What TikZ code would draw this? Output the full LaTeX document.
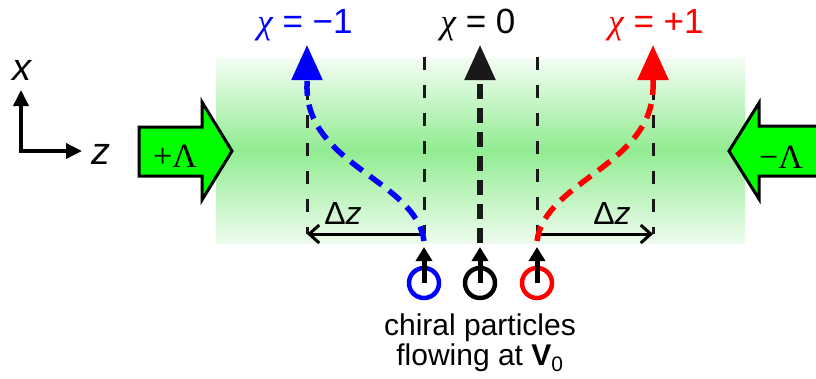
\documentclass[tikz,border=0pt]{standalone}
\usepackage{fontspec}
\setmainfont{Liberation Sans}
\newfontfamily\timesgr{Liberation Serif}
\usetikzlibrary{arrows.meta,positioning}
\definecolor{bandgreen}{RGB}{145,236,145}
\definecolor{fluxgreen}{RGB}{0,255,0}

\begin{document}
\begin{tikzpicture}[x=1pt, y=-1pt, >=Stealth,
    guide/.style={black!90, line width=3pt, dash pattern=on 13pt off 15pt},
    track/.style={line width=5.5pt, dash pattern=on 15pt off 9pt},
    bighead/.style={-{Triangle[width=30pt,length=35pt]}},
    smallhead/.style={-{Triangle[width=16pt,length=14pt]}},
    flux/.style={draw=black, line width=3pt, fill=fluxgreen, line join=miter},
    chilbl/.style={font=\fontsize{35}{40}\selectfont, inner sep=0pt},
    dzlbl/.style={font=\fontsize{32}{36}\selectfont, inner sep=0pt},
    particle/.style={circle, line width=4.5pt, minimum size=30pt, inner sep=0pt}]
    \useasboundingbox (0,0) rectangle (816,378);
    \shade[top color=bandgreen!10!white, bottom color=bandgreen!15!white,
        middle color=bandgreen] (216,58) rectangle (745,243);

    \coordinate (o) at (21,151);
    \coordinate (ax) at (21,90);
    \coordinate (az) at (82,151);
    \draw[line width=3.5pt, {Triangle[width=15pt,length=16pt]}-{Triangle[width=15pt,length=16pt]}]
        (ax) -- (o) -- (az);
    \node[font=\itshape\fontsize{38}{42}\selectfont, inner sep=0pt] (lx) at (22,70) {x};
    \node[font=\itshape\fontsize{38}{42}\selectfont, inner sep=0pt] (lz) at (101,154) {z};

    \draw[flux] (139,127) -- (202,127) -- (202,102) -- (232,151)
        -- (202,200) -- (202,176) -- (139,176) -- cycle;
    \node[font=\timesgr\fontsize{34}{36}\selectfont, inner sep=0pt] (lp) at (175,156) {+Λ};
    \draw[flux] (830,126) -- (759,126) -- (759,103) -- (729,151)
        -- (759,199) -- (759,176) -- (830,176);
    \node[font=\timesgr\fontsize{34}{36}\selectfont, inner sep=0pt] (lm) at (781,157) {−Λ};

    \coordinate (g1t) at (307,87);  \coordinate (g1b) at (307,234);
    \coordinate (g2t) at (424,57);  \coordinate (g2b) at (424,234);
    \coordinate (g3t) at (537,57);  \coordinate (g3b) at (537,234);
    \coordinate (g4t) at (653,87);  \coordinate (g4b) at (653,234);
    \draw[guide] (g1t) -- (g1b);
    \draw[guide] (g2t) -- (g2b);
    \draw[guide] (g3t) -- (g3b);
    \draw[guide] (g4t) -- (g4b);

    \draw[line width=3pt, -{Straight Barb[length=10pt,width=18pt]}] (g2b) -- (g1b);
    \draw[line width=3pt, -{Straight Barb[length=10pt,width=18pt]}] (g3b) -- (g4b);
    \node[dzlbl] (dzl) at (343,213) {Δ\textit{z}};
    \node[dzlbl] (dzr) at (612,213) {Δ\textit{z}};

    \node[particle, draw=blue] (pb) at (424,283) {};
    \node[particle, draw=black] (pk) at (480,283) {};
    \node[particle, draw=red] (pr) at (537,283) {};
    \coordinate (sb) at (424,247);
    \coordinate (sk) at (480,247);
    \coordinate (sr) at (537,247);
    \draw[line width=5pt, smallhead] (pb.center) -- (sb);
    \draw[line width=5pt, smallhead] (pk.center) -- (sk);
    \draw[line width=5pt, smallhead] (pr.center) -- (sr);

    \coordinate (tb) at (307,45);
    \coordinate (tk) at (480,45);
    \coordinate (tr) at (653,45);
    \draw[track, blue, bighead] (424,241) .. controls (416,180) and (305,165) .. (307,85) -- (tb);
    \draw[track, black!90, bighead] (480,243) -- (tk);
    \draw[track, red, bighead] (537,241) .. controls (545,180) and (655,165) .. (653,85) -- (tr);

    \node[chilbl, text=blue] (cm) at (305,25) {{\timesgr\itshape χ} = −1};
    \node[chilbl, text=black] (c0) at (478,25) {{\timesgr\itshape χ} = 0};
    \node[chilbl, text=red] (cp) at (656,25) {{\timesgr\itshape χ} = +1};

    \node[align=center, font=\fontsize{30}{30}\selectfont, inner sep=0pt] (cap) at (480,343)
        {chiral particles\\flowing at \textbf{V}\textsubscript{0}};
\end{tikzpicture}
\end{document}
